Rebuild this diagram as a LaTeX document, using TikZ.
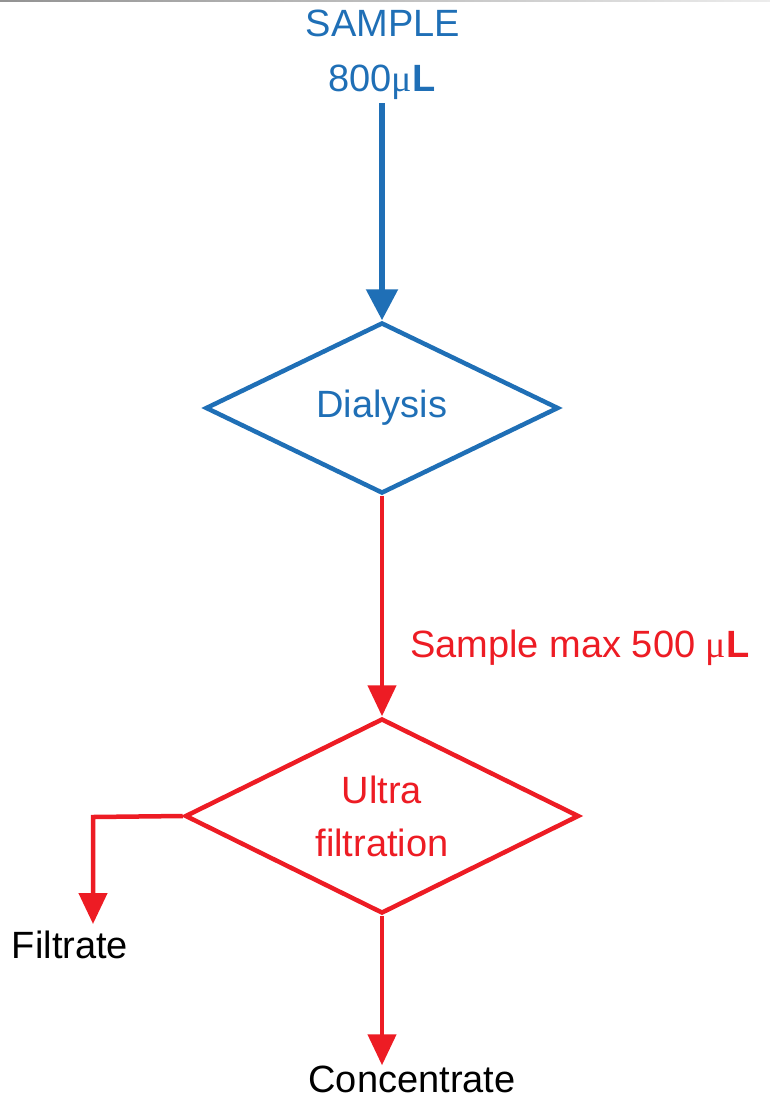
\documentclass[tikz,border=0pt]{standalone}
\usepackage{fontspec}
\setmainfont{Liberation Sans}
\newfontfamily\mufont{Liberation Serif}
\usetikzlibrary{arrows.meta,shapes.geometric}
\definecolor{flowblue}{HTML}{1F6FB6}
\definecolor{flowred}{HTML}{ED1C24}
\tikzset{
  txt/.style={inner sep=0pt,font=\fontsize{38}{53}\selectfont},
  decision/.style={diamond,aspect=2,draw=#1,text=#1,line width=4.5pt,inner sep=0pt,
    align=center,font=\fontsize{38}{53}\selectfont},
  flow/.style={draw=#1,line width=4.5pt,
    -{Triangle[length=31pt,width=28pt,fill=#1]}}}

\begin{document}
\begin{tikzpicture}[x=1pt,y=-1pt]
  \useasboundingbox (0,0) rectangle (770,1099);
  \shade[left color=gray!85,right color=gray!15] (0,0) rectangle (770,2);
  \node[txt,text=flowblue,anchor=base] (sample) at (383,37) {SAMPLE};
  \node[txt,text=flowblue,anchor=base] (vol) at (382,92) {800{\mufont μ}\textbf{L}};
  \node[decision=flowblue,minimum width=353pt,minimum height=171pt] (dial) at (382,408) {Dialysis};
  \node[decision=flowred,minimum width=394pt,minimum height=195pt] (ultra) at (382,816) {Ultra\\filtration};
  \node[txt,text=flowred,anchor=base west] (maxvol) at (410,657) {Sample max 500 {\mufont μ}\textbf{L}};
  \node[txt,anchor=base] (filt) at (70,958) {Filtrate};
  \node[txt,anchor=base] (conc) at (412,1092) {Concentrate};
  \coordinate (corner) at (93,817);
  \coordinate (filtend) at (93,924);
  \draw[flow=flowblue,line width=5.5pt,
    -{Triangle[length=31pt,width=31pt,fill=flowblue]}] (vol.south) ++(0,3) -- (dial.north);
  \draw[flow=flowred] (dial.south) -- (ultra.north);
  \draw[flow=flowred] (ultra.west) -- (corner) -- (filtend);
  \draw[flow=flowred] (ultra.south) -- (ultra.south |- conc.north);
\end{tikzpicture}
\end{document}
